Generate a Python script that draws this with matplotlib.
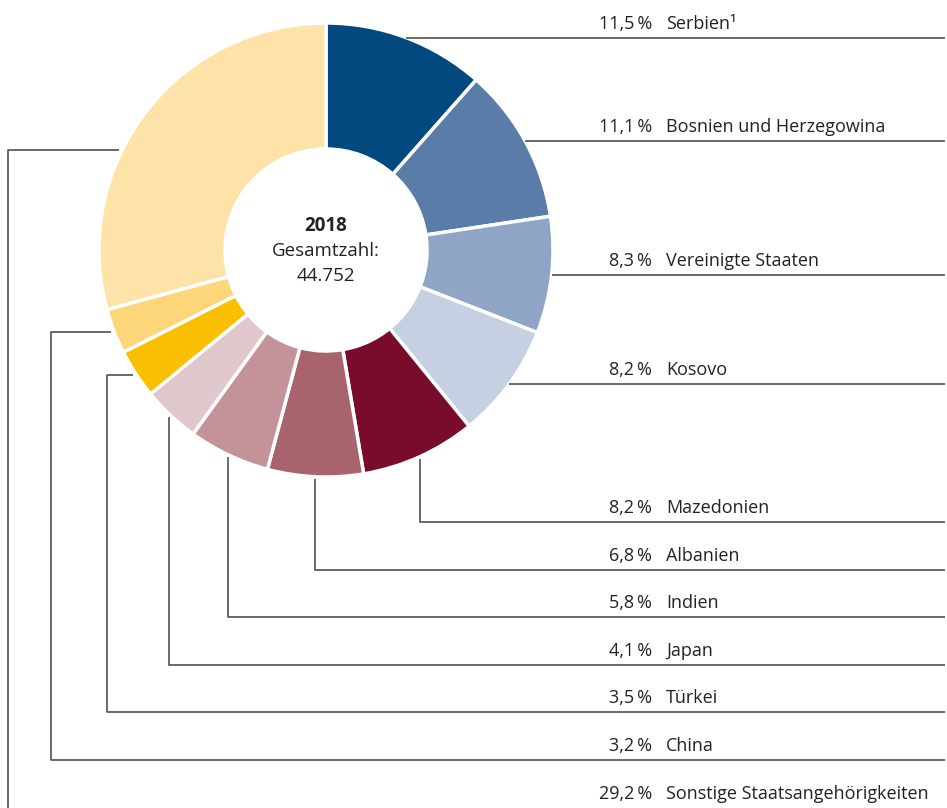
import numpy as np
import matplotlib
matplotlib.use("Agg")
import matplotlib.pyplot as plt

# Daten: Anteile 2018 (Prozent), im Uhrzeigersinn ab 12 Uhr
laender = ["Serbien\u00b9", "Bosnien und Herzegowina", "Vereinigte Staaten", "Kosovo",
           "Mazedonien", "Albanien", "Indien", "Japan", "Türkei", "China",
           "Sonstige Staatsangehörigkeiten"]
anteile = [11.5, 11.1, 8.3, 8.2, 8.2, 6.8, 5.8, 4.1, 3.5, 3.2, 29.2]
farben = ["#01497e", "#5a7ca8", "#8fa5c6", "#c5d0e3", "#7a0c2b", "#a8636d",
          "#c4939a", "#e0c7cb", "#f9bf00", "#fed67a", "#fee3a9"]
jahr = "2018"
gesamt = "44.752"

plt.rcParams['font.family'] = ['Open Sans', 'DejaVu Sans']
TXT = "#222222"
LINE = "#505050"

W, H = 947, 808
fig = plt.figure(figsize=(W / 100, H / 100), dpi=100)
ax = fig.add_axes([0, 0, 1, 1])

cx, cy = 326, H - 250
r_out, r_in = 227, 101

wedges, _ = ax.pie(anteile, colors=farben, startangle=90, counterclock=False,
                   center=(cx, cy), radius=r_out, frame=True,
                   wedgeprops=dict(width=r_out - r_in, edgecolor='white', linewidth=2.5))
ax.set_xlim(0, W)
ax.set_ylim(0, H)
ax.set_aspect('equal')
ax.axis('off')

# Mittentext
ax.text(cx, cy + 24, jahr, ha='center', va='center', fontsize=13.5, fontweight='bold', color=TXT)
ax.text(cx, cy - 1, "Gesamtzahl:", ha='center', va='center', fontsize=13.5, color=TXT)
ax.text(cx, cy - 26, gesamt, ha='center', va='center', fontsize=13.5, color=TXT)


def anker(w, frac=0.5, r=r_out):
    # frac gemessen ab theta1 (bei Uhrzeigersinn = Ende des Segments)
    a = np.deg2rad(w.theta1 + (w.theta2 - w.theta1) * frac)
    return cx + r * np.cos(a), cy + r * np.sin(a)


x_right = 945
x_pct = 652
x_name = 666
zeilen = [522, 570, 617, 665, 712, 760, 808]   # Linienhöhen (Pixel von oben) ab Mazedonien
x_vert_links = {8: 107, 9: 51, 10: 8}
lw = 1.2

for i, (w, land, wert) in enumerate(zip(wedges, laender, anteile)):
    if i < 4:
        x0, y0 = anker(w)
        ly = y0
        ax.plot([x0, x_right], [ly, ly], color=LINE, lw=lw, solid_capstyle='butt')
    elif i < 8:
        x0, y0 = anker(w, r=r_out + 2)
        ly = H - zeilen[i - 4]
        ax.plot([x0, x0, x_right], [y0, ly, ly], color=LINE, lw=lw, solid_capstyle='butt')
    else:
        frac = 0.61 if i == 10 else 0.5
        x0, y0 = anker(w, frac=frac, r=r_out + 3)
        ly = H - zeilen[i - 4]
        xv = x_vert_links[i]
        if i == 10:
            ax.plot([x0, xv, xv], [y0, y0, -5], color=LINE, lw=lw, solid_capstyle='butt')
        else:
            ax.plot([x0, xv, xv, x_right], [y0, y0, ly, ly], color=LINE, lw=lw,
                    solid_capstyle='butt')
    pct = f"{wert:.1f}".replace('.', ',') + "\u2009%"
    ax.text(x_pct, ly + 9, pct, ha='right', va='baseline', fontsize=13, color=TXT)
    ax.text(x_name, ly + 9, land, ha='left', va='baseline', fontsize=13, color=TXT)

fig.savefig("out.png", dpi=100)
